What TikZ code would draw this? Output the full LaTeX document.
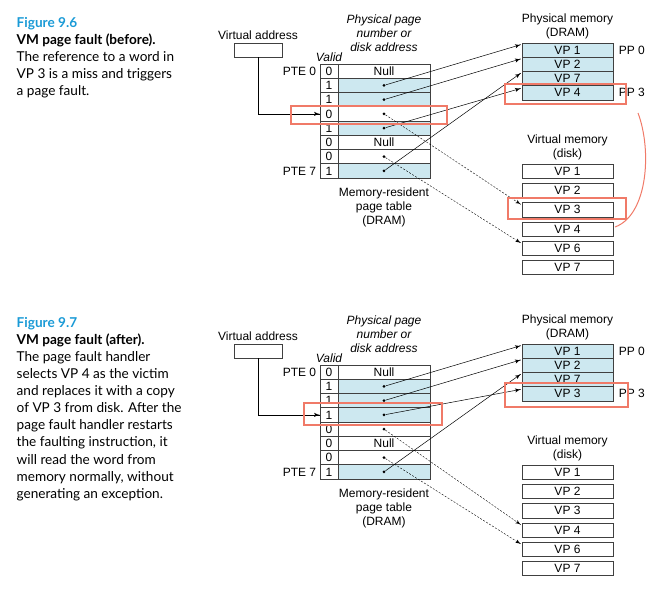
\documentclass[tikz,border=0pt]{standalone}
\usepackage{fontspec}
\setmainfont{Liberation Sans}
\newfontfamily\capfont{Lato}
\usetikzlibrary{arrows}
\usetikzlibrary{decorations.markings}
\usetikzlibrary{positioning}
\definecolor{pageblue}{HTML}{CDE8F0}
\definecolor{faultred}{HTML}{F07A68}
\definecolor{figblue}{HTML}{1A9AD6}
\tikzset{ptr/.style = {line width=0.5, decoration={markings,
                                  mark=at position 1 with {\arrow[scale=1.3]{latex'}}},
                      postaction={decorate}}}
\tikzset{swap/.style = {ptr, line width=0.4, dash pattern=on 2pt off 1.5pt}}
\tikzset{circ/.style = {fill, circle, inner sep = 0, minimum size = 3.2}}
\tikzset{cell/.style = {draw=black!75, line width=0.6, minimum height=14.25, inner sep=0,
                        font=\fontsize{12}{12}\selectfont}}
\tikzset{redbox/.style = {draw=faultred, line width=1.3, inner sep=0}}
\tikzset{caption/.style = {anchor=north west, align=left, inner sep=0,
                           font=\capfont\fontsize{13.6}{17.1}\selectfont}}
\newcommand{\figtitle}[1]{{\color{figblue}\bfseries #1}}

\begin{document}
\begin{tikzpicture}[x=1pt, y=-1pt, font=\fontsize{12}{14}\selectfont]
      \useasboundingbox (0, 0) rectangle (654, 592);

      % Figure 9.6
      \node (cap1) at (16.5, 17) [caption] {\figtitle{Figure 9.6}\\
        \textbf{VM page fault (before).}\\ The reference to a word in\\
        VP 3 is a miss and triggers\\ a page fault.};

      \node (vaddr) at (258, 35) {Virtual address};
      \node (vabox) at (258, 50) [cell, minimum width=48, minimum height=14] {};
      \node (head) at (384, 33) [align=center, font=\itshape\fontsize{12}{14}\selectfont] {Physical page\\number or\\disk address};
      \node (valid) at (329, 57.5) [font=\itshape\fontsize{12}{14}\selectfont] {Valid};

      \foreach \v/\f/\t [count=\i from 0] in {0/white/Null, 1/pageblue/{}, 1/pageblue/{}, 0/white/{},
                                               1/pageblue/{}, 0/white/Null, 0/white/{}, 1/pageblue/{}}
      {
        \node (v\i) at (329, 71.125+14.25*\i) [cell, minimum width=18] {\v};
        \node (p\i) at (384, 71.125+14.25*\i) [cell, minimum width=92, fill=\f] {\t};
      }
      \foreach \i in {1,2,3,4,6,7}
        \node (d\i) at (p\i) [circ] {};
      \node (pte0) [left=0pt of v0] {PTE 0};
      \node (pte7) [left=0pt of v7] {PTE 7};
      \node (tab) at (384, 207) [align=center] {Memory-resident\\page table\\(DRAM)};

      \node (phys) at (567.5, 26) [align=center] {Physical memory\\(DRAM)};
      \foreach \t [count=\i from 0] in {VP 1, VP 2, VP 7, VP 4}
        \node (pm\i) at (567.5, 50.1+14.25*\i) [cell, minimum width=91, fill=pageblue] {\t};
      \node (pp0) [right=2pt of pm0] {PP 0};
      \node (pp3) [right=2pt of pm3] {PP 3};

      \node (virt) at (567.5, 147) [align=center] {Virtual memory\\(disk)};
      \foreach \t [count=\i from 0] in {VP 1, VP 2, VP 3, VP 4, VP 6, VP 7}
        \node (dk\i) at (567.5, 171.15+19.3*\i) [cell, minimum width=91] {\t};

      \draw [ptr] (vabox.south) |- (v3.west);
      \draw [ptr] (d1) -- ([xshift=-1, yshift=-2]pm0.north west);
      \draw [ptr] (d2) -- ([xshift=-1, yshift=-2]pm1.north west);
      \draw [ptr] (d4) -- ([xshift=-1, yshift=-3]pm3.north west);
      \draw [ptr] (d7) -- ([xshift=-1, yshift=-2]pm2.north west);
      \draw [swap] (d3) -- ([xshift=-1, yshift=-2]dk2.north west);
      \draw [swap] (d6) -- ([xshift=-1, yshift=-2]dk4.north west);

      \node (miss) at (369, 115) [redbox, minimum width=156, minimum height=18] {};
      \node (victim) at (565.5, 94) [redbox, minimum width=121, minimum height=20] {};
      \node (wanted) at (567, 208.5) [redbox, minimum width=118, minimum height=21] {};
      \coordinate (outa) at (638, 113);
      \coordinate (outb) at (615, 227);
      \draw [faultred, line width=1] (outa) .. controls (652, 150) and (648, 215) .. (outb);

      % Figure 9.7
      \begin{scope}[yshift=-301pt]
      \node (cap2) at (16.5, 16) [caption] {\figtitle{Figure 9.7}\\
        \textbf{VM page fault (after).}\\ The page fault handler\\
        selects VP 4 as the victim\\ and replaces it with a copy\\
        of VP 3 from disk. After the\\ page fault handler restarts\\
        the faulting instruction, it\\ will read the word from\\
        memory normally, without\\ generating an exception.};

      \node (bvaddr) at (258, 35) {Virtual address};
      \node (bvabox) at (258, 50) [cell, minimum width=48, minimum height=14] {};
      \node (bhead) at (384, 33) [align=center, font=\itshape\fontsize{12}{14}\selectfont] {Physical page\\number or\\disk address};
      \node (bvalid) at (329, 57.5) [font=\itshape\fontsize{12}{14}\selectfont] {Valid};

      \foreach \v/\f/\t [count=\i from 0] in {0/white/Null, 1/pageblue/{}, 1/pageblue/{}, 1/pageblue/{},
                                               0/white/{}, 0/white/Null, 0/white/{}, 1/pageblue/{}}
      {
        \node (bv\i) at (329, 71.125+14.25*\i) [cell, minimum width=18] {\v};
        \node (bp\i) at (384, 71.125+14.25*\i) [cell, minimum width=92, fill=\f] {\t};
      }
      \foreach \i in {1,2,3,4,6,7}
        \node (bd\i) at (bp\i) [circ] {};
      \node (bpte0) [left=0pt of bv0] {PTE 0};
      \node (bpte7) [left=0pt of bv7] {PTE 7};
      \node (btab) at (384, 207) [align=center] {Memory-resident\\page table\\(DRAM)};

      \node (bphys) at (567.5, 26) [align=center] {Physical memory\\(DRAM)};
      \foreach \t [count=\i from 0] in {VP 1, VP 2, VP 7, VP 3}
        \node (bpm\i) at (567.5, 50.1+14.25*\i) [cell, minimum width=91, fill=pageblue] {\t};
      \node (bpp0) [right=2pt of bpm0] {PP 0};
      \node (bpp3) [right=2pt of bpm3] {PP 3};

      \node (bvirt) at (567.5, 147) [align=center] {Virtual memory\\(disk)};
      \foreach \t [count=\i from 0] in {VP 1, VP 2, VP 3, VP 4, VP 6, VP 7}
        \node (bdk\i) at (567.5, 171.15+19.3*\i) [cell, minimum width=91] {\t};

      \draw [ptr] (bvabox.south) |- (bv3.west);
      \draw [ptr] (bd1) -- ([xshift=-1, yshift=-2]bpm0.north west);
      \draw [ptr] (bd2) -- ([xshift=-1, yshift=-2]bpm1.north west);
      \draw [ptr] (bd3) -- ([xshift=-1, yshift=-3]bpm3.north west);
      \draw [ptr] (bd7) -- ([xshift=-1, yshift=-2]bpm2.north west);
      \draw [swap] (bd4) -- ([xshift=-1, yshift=-2]bdk3.north west);
      \draw [swap] (bd6) -- ([xshift=-1, yshift=-2]bdk4.north west);

      \node (hit) at (373, 113) [redbox, minimum width=138, minimum height=22] {};
      \node (loaded) at (566.5, 94) [redbox, minimum width=123, minimum height=24] {};
      \end{scope}
    \end{tikzpicture}
\end{document}
